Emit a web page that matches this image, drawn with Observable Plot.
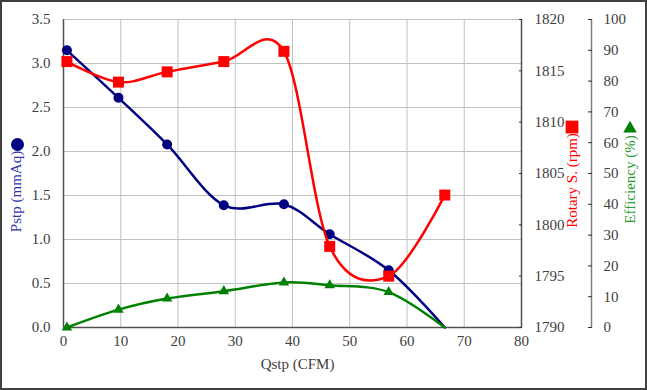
<!DOCTYPE html>
<html><head><meta charset="utf-8">
<script src="https://cdn.jsdelivr.net/npm/d3@7"></script>
<script src="https://cdn.jsdelivr.net/npm/@observablehq/plot@0.6"></script>
<style>
body{margin:0;background:#fff;}
#chart{position:relative;width:647px;height:390px;overflow:hidden;background:#fff;}
#chart svg{position:absolute;left:0;top:0;}
#chart svg text{font-family:'Liberation Serif','Times New Roman',serif;}
#border{position:absolute;left:0;top:0;right:0;bottom:0;border:2px solid #404040;box-sizing:border-box;pointer-events:none;}
</style></head><body><div id="chart"></div>
<script>
// ---- data ----
const qstp   = [0.6, 9.6, 18.1, 28.0, 38.5, 46.5, 56.8, 66.6];
const pstp   = [3.15, 2.61, 2.08, 1.39, 1.40, 1.06, 0.65, 0.0];
const rpm    = [1815.9, 1813.9, 1814.9, 1815.9, 1816.9, 1797.9, 1795.0, 1802.9];
const eff    = [0, 5.8, 9.4, 11.8, 14.6, 13.7, 11.5, 0];
const pMarked = [1, 1, 1, 1, 1, 1, 1, 0];
const rMarked = [1, 1, 1, 1, 1, 1, 1, 1];
const eMarked = [1, 1, 1, 1, 1, 1, 1, 0];
const xTicks   = [0, 10, 20, 30, 40, 50, 60, 70, 80];
const pTicks   = [0, 0.5, 1.0, 1.5, 2.0, 2.5, 3.0, 3.5];
const rpmTicks = [1790, 1795, 1800, 1805, 1810, 1815, 1820];
const effTicks = [0, 10, 20, 30, 40, 50, 60, 70, 80, 90, 100];
const xLabel = "Qstp (CFM)";
const pLabel = "Pstp (mmAq)";
const rLabel = "Rotary S. (rpm)";
const eLabel = "Efficiency (%)";

const pData = qstp.map((q, i) => ({q, v: pstp[i], m: pMarked[i]}));
const rData = qstp.map((q, i) => ({q, v: rpm[i], m: rMarked[i]}));
const eData = qstp.map((q, i) => ({q, v: eff[i], m: eMarked[i]}));

const FONT = "'Liberation Serif','Times New Roman',serif";
const common = {
  width: 647, height: 390,
  marginLeft: 63, marginRight: 126, marginTop: 19, marginBottom: 63,
  x: {domain: [0, 80]},
  style: `background: transparent; font-family: ${FONT}; font-size: 15px; color: #404040; overflow: visible;`
};
const NAVY = "#000080", RED = "#ff0000", GREEN = "#008000";
const tx = {fontFamily: FONT, fontSize: 15, fontVariant: "normal"};

const p1 = Plot.plot({
  ...common,
  y: {domain: [0, 3.5]},
  marks: [
    Plot.gridX(xTicks, {stroke: "#c0c0c0", strokeOpacity: 1}),
    Plot.gridY(pTicks, {stroke: "#c0c0c0", strokeOpacity: 1}),
    Plot.ruleX([0], {stroke: "#505050", strokeWidth: 1.5}),
    Plot.ruleY([0], {stroke: "#505050", strokeWidth: 1.5}),
    Plot.axisX(xTicks, {...tx, tickSize: 0, tickPadding: 8, label: null}),
    Plot.axisY(pTicks, {...tx, tickSize: 0, tickPadding: 13, label: null, tickFormat: d => d.toFixed(1)}),
    Plot.text([xLabel], {...tx, frameAnchor: "bottom", textAnchor: "middle", dx: 5, dy: 41, fill: "#404040"}),
    Plot.text([pLabel], {...tx, frameAnchor: "left", textAnchor: "middle", rotate: -90, dx: -47, dy: 18, fill: "#3333aa"}),
    Plot.dot([pLabel], {frameAnchor: "left", dx: -46, dy: -29, r: 6.5, fill: NAVY, stroke: "none"}),
    Plot.line(pData, {x: "q", y: "v", curve: "cardinal", stroke: NAVY, strokeWidth: 2.5}),
    Plot.dot(pData.filter(d => d.m), {x: "q", y: "v", r: 5, fill: NAVY, stroke: "none"})
  ]
});

const p2 = Plot.plot({
  ...common,
  x: {domain: [0, 80], axis: null},
  y: {domain: [1790, 1820]},
  marks: [
    Plot.ruleX([80], {stroke: "#505050", strokeWidth: 1.5}),
    Plot.axisY(rpmTicks, {...tx, anchor: "right", tickSize: -3, tickPadding: 16, label: null, tickFormat: d => String(d), stroke: "#303030"}),
    Plot.text([rLabel], {...tx, frameAnchor: "right", textAnchor: "middle", rotate: -90, dx: 51, dy: 7, fill: RED}),
    Plot.dot([rLabel], {frameAnchor: "right", dx: 50.5, dy: -46.5, symbol: "square", r: 7.2, fill: RED, stroke: "none"}),
    Plot.line(rData, {x: "q", y: "v", curve: "cardinal", stroke: RED, strokeWidth: 2.5}),
    Plot.dot(rData.filter(d => d.m), {x: "q", y: "v", symbol: "square", r: 6.2, fill: RED, stroke: "none"})
  ]
});

const p3 = Plot.plot({
  ...common,
  x: {domain: [0, 80], axis: null},
  y: {domain: [0, 100]},
  marks: [
    Plot.ruleX([80], {dx: 70, stroke: "#808080", strokeWidth: 1.5}),
    Plot.axisY(effTicks, {...tx, anchor: "right", dx: 70, tickSize: -4, tickPadding: 16, label: null, tickFormat: d => String(d), stroke: "#303030"}),
    Plot.text([eLabel], {...tx, frameAnchor: "right", textAnchor: "middle", rotate: -90, dx: 109, dy: 6, fill: "#2a9a2a"}),
    Plot.dot([eLabel], {frameAnchor: "right", dx: 108.5, dy: -45, symbol: "triangle", r: 5, fill: GREEN, stroke: "none"}),
    Plot.line(eData, {x: "q", y: "v", curve: "cardinal", stroke: GREEN, strokeWidth: 2.5}),
    Plot.dot(eData.filter(d => d.m), {x: "q", y: "v", symbol: "triangle", r: 3.9, fill: GREEN, stroke: "none"})
  ]
});

const chart = document.getElementById("chart");
chart.append(p1, p2, p3);
const b = document.createElement("div"); b.id = "border"; chart.append(b);
</script>
</body></html>
